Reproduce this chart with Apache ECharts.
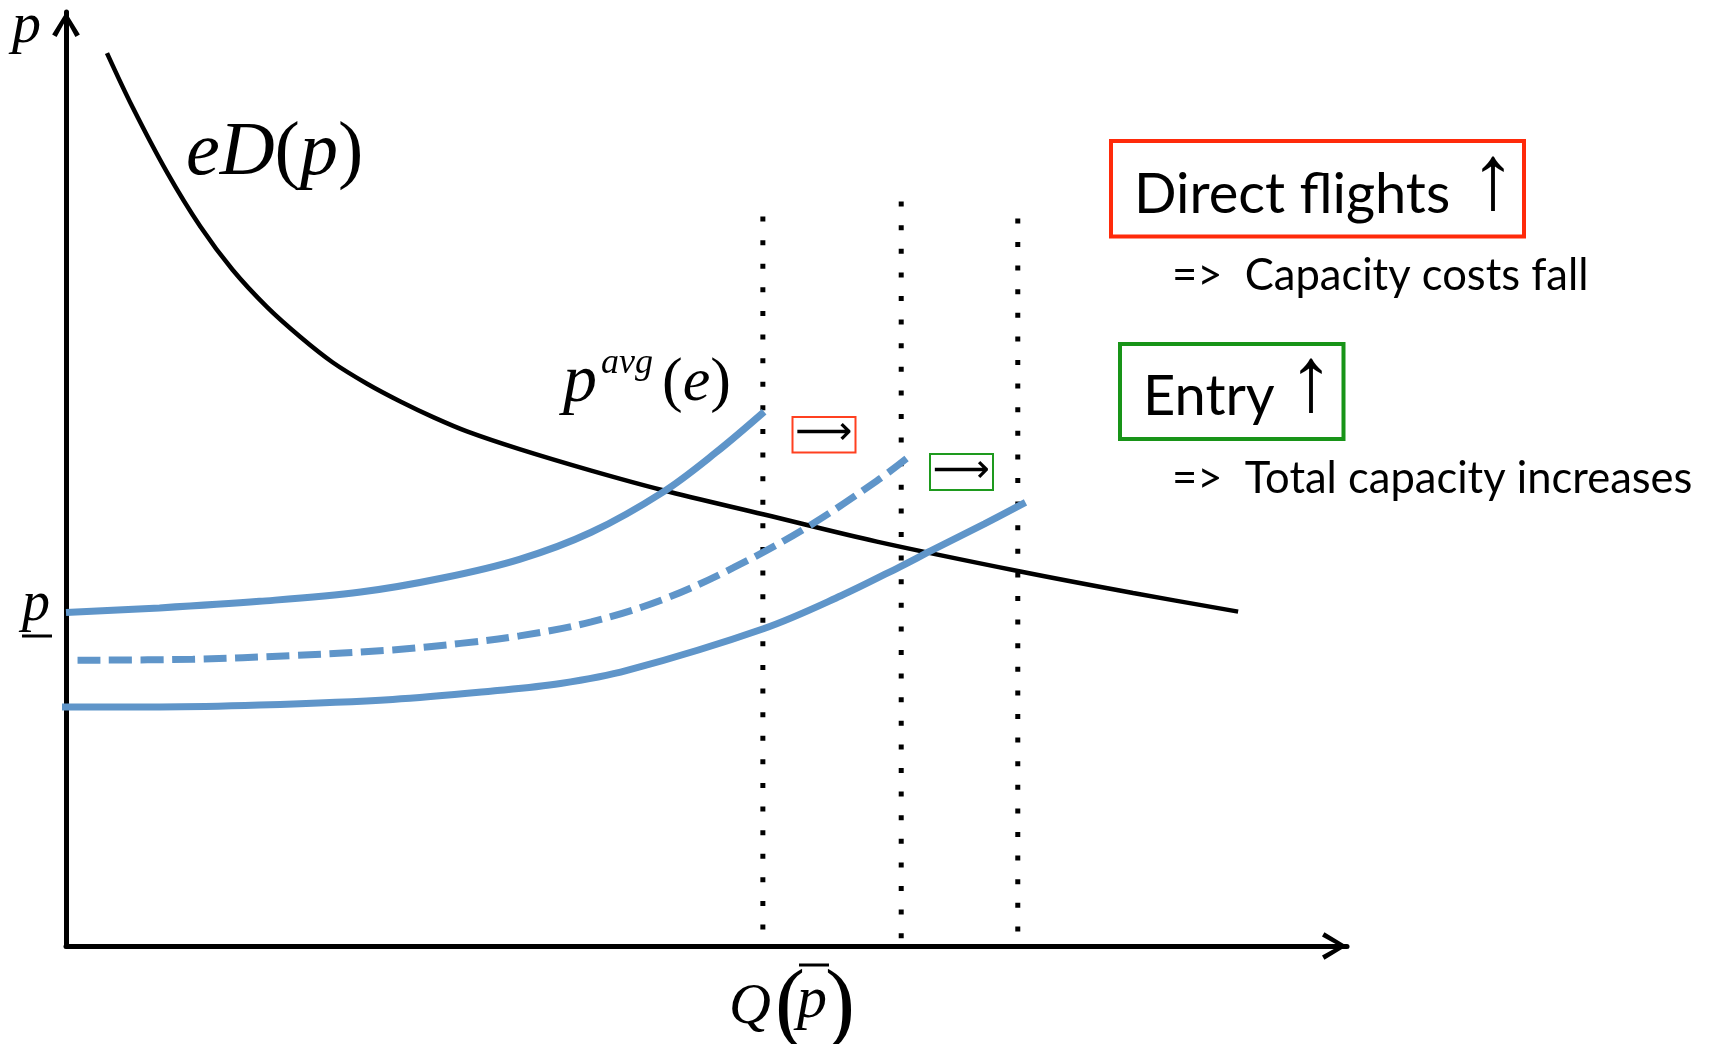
<!DOCTYPE html>
<html>
<head>
<meta charset="utf-8">
<script src="https://cdn.jsdelivr.net/npm/echarts@6/dist/echarts.min.js"></script>
<style>
  html, body { margin: 0; padding: 0; background: #ffffff; }
  #chart { width: 1718px; height: 1044px; }
</style>
</head>
<body>
<div id="chart"></div>
<script>
// Quantity Q on the horizontal axis, price p on the vertical axis (arbitrary units 0..10).
const demandQ = [0.32, 0.52, 0.79, 1.05, 1.30, 1.57, 1.83, 2.08, 2.35, 2.61, 2.87, 3.13, 3.54, 4.10, 4.66, 5.45, 6.33, 7.45, 8.33, 9.15];
const demandP = [9.56, 8.98, 8.28, 7.70, 7.24, 6.84, 6.52, 6.25, 6.02, 5.83, 5.66, 5.51, 5.32, 5.09, 4.88, 4.62, 4.33, 4.01, 3.78, 3.58];

// Average price curve p^avg(e): initial position
const avgBaseQ = [0.00, 0.73, 1.51, 2.30, 2.94, 3.54, 4.10, 4.66, 5.07, 5.45];
const avgBaseP = [3.57, 3.62, 3.69, 3.79, 3.94, 4.14, 4.43, 4.86, 5.28, 5.72];

// after more direct flights (capacity costs fall)
const avgDirectQ = [0.09, 0.99, 1.77, 2.55, 3.08, 3.54, 4.10, 4.66, 5.21, 5.78, 6.33, 6.58];
const avgDirectP = [3.06, 3.07, 3.11, 3.17, 3.24, 3.32, 3.47, 3.71, 4.05, 4.48, 4.98, 5.24];

// after entry (total capacity increases)
const avgEntryQ = [-0.05, 0.73, 1.51, 2.55, 3.33, 3.86, 4.38, 5.45, 6.05, 6.51, 6.75, 7.17, 7.49];
const avgEntryP = [2.56, 2.56, 2.58, 2.64, 2.73, 2.81, 2.95, 3.40, 3.75, 4.06, 4.23, 4.52, 4.75];

// Capacity levels Q(p̄) marked by dotted verticals, and the height each one reaches
const capacityQ = [5.44, 6.52, 7.43];
const capacityTopP = [7.81, 7.97, 7.79];

const axisMin = 0;
const axisMax = 10;

const BLUE = '#5f95c9';
const SERIF = '"Liberation Serif", "Times New Roman", serif';
const SANS = 'Lato, "Open Sans", sans-serif';

function pairs(xs, ys) { return xs.map(function (x, i) { return [x, ys[i]]; }); }

// open chevron arrow head, pointing up
const chevron = 'path://M14,0 L27.7,22.3 L23.3,24.7 L14,7.7 L4.7,24.7 L0.3,22.3 Z';

function axisCfg() {
  return {
    type: 'value', min: axisMin, max: axisMax,
    axisLine: {
      show: true, onZero: true,
      lineStyle: { color: '#000', width: 5 },
      symbol: ['none', chevron], symbolSize: [28, 25], symbolOffset: [0, -12.5]
    },
    axisTick: { show: false }, axisLabel: { show: false },
    splitLine: { show: false }
  };
}

// place text by its left edge and alphabetic baseline
function label(x, baseline, text, size, family, extra) {
  const k = family === SANS ? 0.32 : 0.25;
  return {
    type: 'text', x: x, y: baseline - k * size, z: 10,
    style: Object.assign({
      text: text, fontSize: size, fontFamily: family, fill: '#000',
      align: 'left', verticalAlign: 'middle'
    }, extra || {})
  };
}

function rule(x1, x2, y, w) {
  return { type: 'line', z: 10, shape: { x1: x1, y1: y, x2: x2, y2: y }, style: { stroke: '#000', lineWidth: w } };
}

function box(x, y, w, h, color, lw) {
  return { type: 'rect', z: 10, shape: { x: x, y: y, width: w, height: h }, style: { fill: 'none', stroke: color, lineWidth: lw } };
}

function curve(data, color, width, z, extra) {
  return Object.assign({
    type: 'line', data: data, showSymbol: false, smooth: 0.35, z: z, clip: false,
    lineStyle: { color: color, width: width, cap: 'butt' }
  }, extra || {});
}

const capacitySeries = capacityQ.map(function (q, i) {
  return {
    type: 'line', data: [[q, capacityTopP[i]], [q, axisMin]],
    showSymbol: false, z: 1, silent: true,
    lineStyle: { color: '#000', width: 5, type: [5, 18.6], cap: 'butt' }
  };
});

const chart = echarts.init(document.getElementById('chart'), null, { renderer: 'canvas' });

chart.setOption({
  animation: false,
  backgroundColor: '#ffffff',
  grid: { left: 66, right: 371, top: 12, bottom: 98, containLabel: false },
  xAxis: axisCfg(),
  yAxis: axisCfg(),
  series: capacitySeries.concat([
    curve(pairs(demandQ, demandP), '#000', 4.5, 3),
    curve(pairs(avgBaseQ, avgBaseP), BLUE, 7, 4),
    curve(pairs(avgDirectQ, avgDirectP), BLUE, 7, 4, {
      lineStyle: { color: BLUE, width: 7, type: [23, 8.5], cap: 'butt' }
    }),
    curve(pairs(avgEntryQ, avgEntryP), BLUE, 7, 4)
  ]),
  graphic: [
    // axis names
    label(12, 41, 'p', 58, SERIF, { fontStyle: 'italic' }),
    label(22, 619, 'p', 56, SERIF, { fontStyle: 'italic' }),
    rule(22, 52, 636, 3),
    label(729, 1022, 'Q', 58, SERIF, { fontStyle: 'italic' }),
    label(775, 1031, '(', 90, SERIF),
    label(797, 1016, 'p', 60, SERIF, { fontStyle: 'italic' }),
    rule(799, 829, 965, 3),
    label(825, 1031, ')', 90, SERIF),

    // curve names
    {
      type: 'text', x: 186, y: 177 - 0.3 * 76, z: 10,
      style: {
        text: '{i|eD}{n|(}{i|p}{n|)}', fontSize: 76, fontFamily: SERIF, fill: '#000', align: 'left', verticalAlign: 'middle',
        rich: { i: { fontStyle: 'italic', fontSize: 76, fontFamily: SERIF }, n: { fontSize: 76, fontFamily: SERIF } }
      }
    },
    label(563, 400, 'p', 68, SERIF, { fontStyle: 'italic' }),
    label(601, 373, 'avg', 36, SERIF, { fontStyle: 'italic' }),
    {
      type: 'text', x: 662, y: 402 - 0.3 * 62, z: 10,
      style: {
        text: '{n|(}{i|e}{n|)}', fontSize: 62, fontFamily: SERIF, fill: '#000', align: 'left', verticalAlign: 'middle',
        rich: { i: { fontStyle: 'italic', fontSize: 62, fontFamily: SERIF }, n: { fontSize: 62, fontFamily: SERIF } }
      }
    },

    // shift markers between the capacity levels
    box(792.5, 417, 63, 35.5, '#ff4020', 2),
    { type: 'text', x: 824, y: 434, z: 10, style: { text: '⟶', fontSize: 40, fontFamily: '"DejaVu Sans"', fill: '#000', align: 'center', verticalAlign: 'middle' } },
    box(930, 454, 63, 36, '#1e9a1e', 2),
    { type: 'text', x: 961.5, y: 471.5, z: 10, style: { text: '⟶', fontSize: 40, fontFamily: '"DejaVu Sans"', fill: '#000', align: 'center', verticalAlign: 'middle' } },

    // explanations on the right
    box(1111, 141, 413, 95.5, '#ff2a0a', 4),
    label(1134, 213, 'Direct flights', 56, SANS),
    { type: 'text', x: 1493, y: 184, z: 10, style: { text: '↑', fontSize: 92, fontFamily: SERIF, fill: '#000', align: 'center', verticalAlign: 'middle' } },
    label(1172, 290, '=>  Capacity costs fall', 43.5, SANS),
    box(1120, 344, 223.5, 95, '#189418', 4),
    label(1143, 415, 'Entry', 56, SANS),
    { type: 'text', x: 1311, y: 386, z: 10, style: { text: '↑', fontSize: 92, fontFamily: SERIF, fill: '#000', align: 'center', verticalAlign: 'middle' } },
    label(1172, 493, '=>  Total capacity increases', 43.5, SANS)
  ]
});
</script>
</body>
</html>
